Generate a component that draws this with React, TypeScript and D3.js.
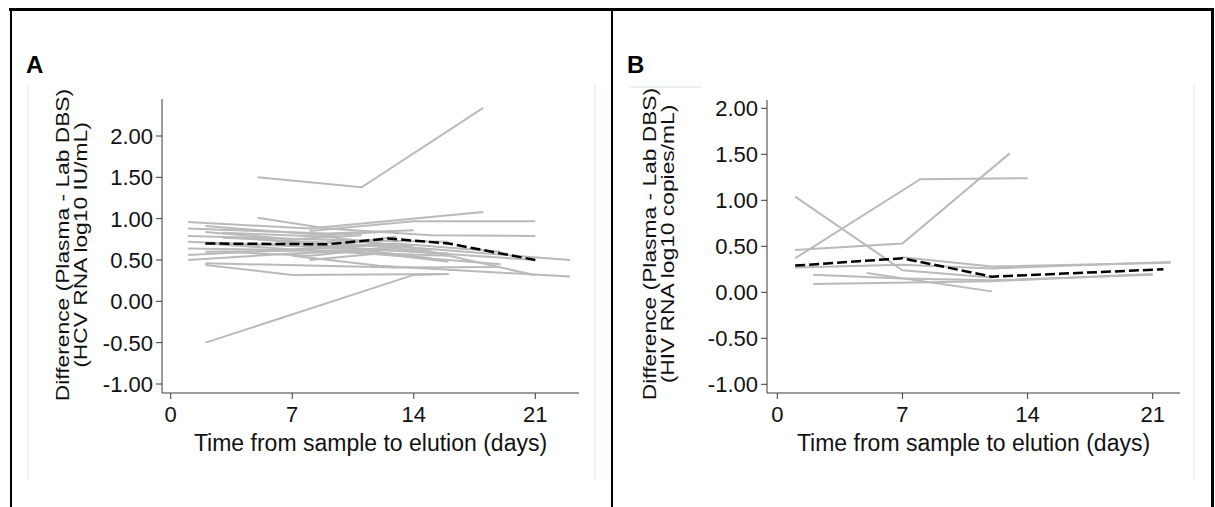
import React from "react";
import * as d3 from "d3";

// ---------- data ----------
const xTickValues = [0, 7, 14, 21];
const yTickValues = [-1, -0.5, 0, 0.5, 1, 1.5, 2];

// Panel A: HCV, individual participants [day, difference]
const hcvLines: [number, number][][] = [
  [[5, 1.5], [11, 1.38], [18, 2.34]],
  [[2, -0.5], [14, 0.32], [16, 0.33]],
  [[5, 1.01], [9, 0.88], [15, 0.8], [21, 0.79]],
  [[1, 0.96], [8, 0.88], [18, 1.08]],
  [[8, 0.85], [14, 0.97], [21, 0.97]],
  [[1, 0.79], [10, 0.74], [16, 0.72]],
  [[2, 0.91], [9, 0.8], [13, 0.85]],
  [[3, 0.83], [9, 0.78], [14, 0.65]],
  [[1, 0.72], [8, 0.66], [13, 0.7], [19, 0.6]],
  [[1, 0.64], [7, 0.62], [12, 0.68], [23, 0.5]],
  [[2, 0.7], [9, 0.6], [16, 0.55]],
  [[1, 0.56], [9, 0.65], [14, 0.6], [21, 0.5]],
  [[1, 0.5], [7, 0.58], [12, 0.62]],
  [[2, 0.44], [7, 0.32], [16, 0.33]],
  [[2, 0.46], [13, 0.41], [19, 0.415]],
  [[7, 0.55], [12, 0.43], [23, 0.3]],
  [[9, 0.72], [15, 0.6], [21, 0.315]],
  [[2, 0.84], [7, 0.75], [11, 0.8]],
  [[5, 0.75], [10, 0.65], [16, 0.58]],
  [[3, 0.6], [8, 0.55], [14, 0.68]],
  [[10, 0.6], [13, 0.55], [19, 0.45]],
  [[4, 0.68], [11, 0.72], [15, 0.62]],
  [[1, 0.88], [9, 0.82], [14, 0.86]],
  [[2, 0.6], [11, 0.62], [15, 0.52]],
  [[8, 0.5], [12, 0.58], [16, 0.48]],
  [[3, 0.77], [10, 0.7], [13, 0.78]],
];
const hcvMean: [number, number][] = [[2, 0.7], [9, 0.69], [12.5, 0.76], [16, 0.7], [21, 0.5]];

// Panel B: HIV
const hivLines: [number, number][][] = [
  [[1, 1.04], [7, 0.24], [12, 0.16]],
  [[1, 0.37], [8, 1.23], [14, 1.24]],
  [[1, 0.46], [7, 0.53], [13, 1.51]],
  [[1, 0.27], [7, 0.3], [12, 0.26], [22, 0.33]],
  [[2, 0.19], [7, 0.15], [12, 0.13], [21, 0.19]],
  [[2, 0.09], [12, 0.12], [21, 0.2]],
  [[5, 0.21], [12, 0.01]],
  [[7, 0.38], [12, 0.28], [22, 0.32]],
];
const hivMean: [number, number][] = [[1, 0.29], [7, 0.37], [12, 0.17], [21.6, 0.25]];

const xTitle = "Time from sample to elution (days)";
const yTitleA = ["Difference (Plasma - Lab DBS)", "(HCV RNA log10 IU/mL)"];
const yTitleB = ["Difference (Plasma - Lab DBS)", "(HIV RNA log10 copies/mL)"];

const FONT = "'Liberation Sans', Arial, Helvetica, sans-serif";

type PanelProps = {
  label: string;
  labelX: number;
  lines: [number, number][][];
  mean: [number, number][];
  yTitle: string[];
  xRange: [number, number];
  axisX: [number, number];
  yRange: [number, number];
  axisTop: number;
  axisBottom: number;
  yTitleX: [number, number];
  yTitleCY: number;
};

const fmt = (t: number) => t.toFixed(2);

function Panel(p: PanelProps) {
  const x = d3.scaleLinear().domain([0, 21]).range(p.xRange);
  const y = d3.scaleLinear().domain([-1, 2]).range(p.yRange);
  const line = d3
    .line<[number, number]>()
    .x((d) => x(d[0]))
    .y((d) => y(d[1]));
  const axisColor = "#3a3a3a";
  return (
    <g fontFamily={FONT}>
      <text x={p.labelX} y={73} fontSize={24} fontWeight="bold" fill="#000">
        {p.label}
      </text>
      {p.lines.map((l, i) => (
        <path key={i} d={line(l) || ""} fill="none" stroke="#bababa" strokeWidth={2} />
      ))}
      <path d={line(p.mean) || ""} fill="none" stroke="#000" strokeWidth={2.5} strokeDasharray="10,4" />
      <line x1={p.axisX[0]} x2={p.axisX[0]} y1={p.axisTop} y2={p.axisBottom} stroke={axisColor} strokeWidth={1} />
      {yTickValues.map((t) => (
        <g key={t}>
          <line x1={p.axisX[0] - 6} x2={p.axisX[0]} y1={y(t)} y2={y(t)} stroke={axisColor} />
          <text x={p.axisX[0] - 9} y={y(t)} dy="0.36em" textAnchor="end" fontSize={22} fill="#111">
            {fmt(t)}
          </text>
        </g>
      ))}
      <line x1={p.axisX[0]} x2={p.axisX[1]} y1={p.axisBottom} y2={p.axisBottom} stroke={axisColor} strokeWidth={1} />
      {xTickValues.map((t) => (
        <g key={t}>
          <line x1={x(t)} x2={x(t)} y1={p.axisBottom} y2={p.axisBottom + 6} stroke={axisColor} />
          <text x={x(t)} y={422} textAnchor="middle" fontSize={22} fill="#111">
            {t}
          </text>
        </g>
      ))}
      <text x={(p.axisX[0] + p.axisX[1]) / 2} y={451} textAnchor="middle" fontSize={23} fill="#111">
        {xTitle}
      </text>
      {p.yTitle.map((s, i) => (
        <text
          key={i}
          transform={`translate(${p.yTitleX[i]},${p.yTitleCY}) rotate(-90) scale(1.2,1)`}
          textAnchor="middle"
          fontSize={19}
          fill="#111"
        >
          {s}
        </text>
      ))}
    </g>
  );
}

export default function App() {
  const faint = "#e6ecec";
  return (
    <div style={{ position: "absolute", left: 0, top: 0 }}>
      <svg width={1215} height={507} style={{ display: "block", background: "#fff" }}>
        <line x1={28} x2={28} y1={85} y2={480} stroke={faint} strokeWidth={1.5} />
        <line x1={595} x2={595} y1={85} y2={480} stroke={faint} strokeWidth={1.5} />
        <line x1={630} x2={702} y1={87} y2={87} stroke={faint} strokeWidth={1.5} />
        <line x1={1194} x2={1194} y1={85} y2={480} stroke={faint} strokeWidth={1.5} />

        <Panel
          label="A"
          labelX={26}
          lines={hcvLines}
          mean={hcvMean}
          yTitle={yTitleA}
          xRange={[170.7, 535.3]}
          axisX={[162, 579]}
          yRange={[384, 136]}
          axisTop={99}
          axisBottom={393}
          yTitleX={[69, 87]}
          yTitleCY={245}
        />
        <Panel
          label="B"
          labelX={627}
          lines={hivLines}
          mean={hivMean}
          yTitle={yTitleB}
          xRange={[777.3, 1152.7]}
          axisX={[767, 1180]}
          yRange={[384.3, 108.3]}
          axisTop={100}
          axisBottom={393}
          yTitleX={[656, 674]}
          yTitleCY={244}
        />

        <line x1={9} x2={1214} y1={9.5} y2={9.5} stroke="#000" strokeWidth={3} />
        <line x1={11} x2={11} y1={8} y2={507} stroke="#000" strokeWidth={2} />
        <line x1={612} x2={612} y1={8} y2={507} stroke="#000" strokeWidth={2} />
        <line x1={1212.5} x2={1212.5} y1={8} y2={507} stroke="#000" strokeWidth={3} />
      </svg>
    </div>
  );
}
